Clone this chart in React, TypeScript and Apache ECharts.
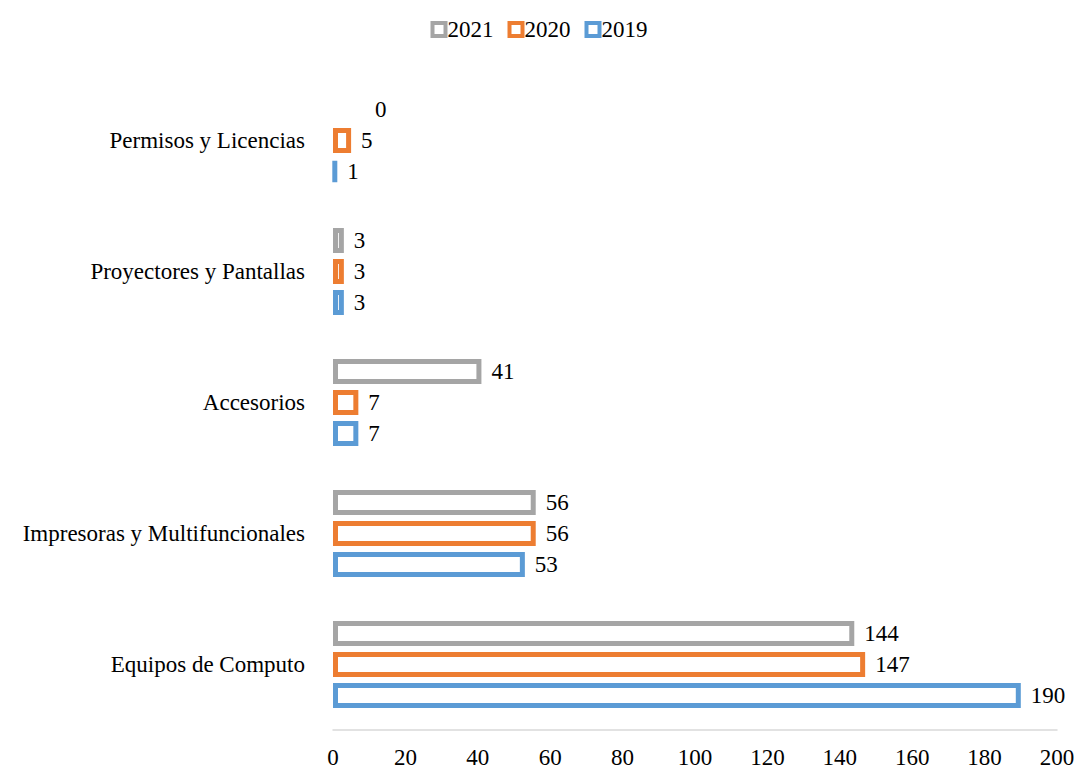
import React, { useEffect, useRef } from "react";
import * as echarts from "echarts";

const categories = [
  "Equipos de Computo",
  "Impresoras y Multifuncionales",
  "Accesorios",
  "Proyectores y Pantallas",
  "Permisos y Licencias",
];
const years = ["2021", "2020", "2019"];
const values2021 = [144, 56, 41, 3, 0];
const values2020 = [147, 56, 7, 3, 5];
const values2019 = [190, 53, 7, 3, 1];
const xTicks = { min: 0, max: 200, interval: 20 };
const colors = ["#A5A5A5", "#ED7D31", "#5B9BD5"];

const FONT = "'Liberation Serif', 'Times New Roman', serif";
const FS = 23;

export default function App() {
  const ref = useRef<HTMLDivElement>(null);
  useEffect(() => {
    if (!ref.current) return;
    const chart = echarts.init(ref.current, null, { renderer: "svg" });
    const seriesValues = [values2021, values2020, values2019];
    chart.setOption({
      animation: false,
      textStyle: { fontFamily: FONT },
      legend: {
        top: 13,
        left: "center",
        itemWidth: 13,
        itemHeight: 13,
        itemGap: 14,
        icon: "rect",
        data: years,
        itemStyle: { borderWidth: 4 },
        textStyle: { fontFamily: FONT, fontSize: FS, color: "#000", padding: [0, 0, 0, -3] },
      },
      grid: { left: 333, right: 21, top: 75, bottom: 40, containLabel: false },
      xAxis: {
        type: "value",
        min: xTicks.min,
        max: xTicks.max,
        interval: xTicks.interval,
        axisLine: { show: true, lineStyle: { color: "#D9D9D9", width: 1.5 } },
        axisTick: { show: false },
        splitLine: { show: false },
        axisLabel: { fontFamily: FONT, fontSize: FS, color: "#000", margin: 16 },
      },
      yAxis: {
        type: "category",
        data: categories,
        axisLine: { show: false },
        axisTick: { show: false },
        axisLabel: { fontFamily: FONT, fontSize: FS, color: "#000", margin: 28 },
      },
      series: years.map((y, i) => ({
        name: y,
        type: "bar",
        barWidth: 25,
        barGap: "24%",
        itemStyle: { color: "#fff", borderColor: colors[i], borderWidth: 5 },
        label: {
          show: true,
          position: "right",
          distance: 10,
          fontFamily: FONT,
          fontSize: FS,
          color: "#000",
        },
        data: seriesValues[i].map((v) =>
          v === 0
            ? { value: v, itemStyle: { borderWidth: 0 }, label: { offset: [32, 0] } }
            : v
        ),
      })),
    });
    return () => chart.dispose();
  }, []);
  return (
    <div
      ref={ref}
      style={{ position: "absolute", left: 0, top: 0, width: 1078, height: 770 }}
    />
  );
}
